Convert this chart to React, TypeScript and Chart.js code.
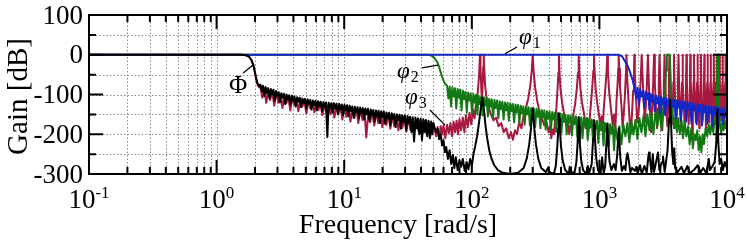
import React, { useEffect, useRef } from 'react';
import { Chart, registerables } from 'chart.js';

Chart.register(...registerables);

type P = [number, number];

// ---------- axes ----------
const X_MIN = 0.1;
const X_MAX = 10000;
const Y_MIN = -300;
const Y_MAX = 100;
const X_DECADES = [0.1, 1, 10, 100, 1000, 10000];
const X_TICK_EXP = ['-1', '0', '1', '2', '3', '4'];
const Y_MAJOR = [100, 0, -100, -200, -300];
const Y_TICK_TEXT = ['100', '0', '-100', '-200', '-300'];
const Y_MINOR = [50, -50, -150, -250];
const X_TITLE = 'Frequency [rad/s]';
const Y_TITLE = 'Gain [dB]';

// ---------- Φ (black) ----------
const PHI_ROLL: P[] = [[0.1, 0], [1.55, 0], [1.7, -1], [1.8, -5], [1.88, -14], [1.95, -28], [2.0, -45], [2.05, -62], [2.1, -73], [2.16, -79]];
const PHI_COMB: P[] = [[2.2, -75], [2.253, -92], [2.307, -78], [2.362, -104], [2.419, -81], [2.477, -96], [2.536, -84], [2.597, -110], [2.66, -86], [2.723, -100], [2.789, -88], [2.856, -116], [2.924, -91], [2.994, -104], [3.066, -94], [3.14, -120], [3.215, -97], [3.292, -108], [3.371, -98], [3.452, -124], [3.535, -100], [3.62, -112], [3.707, -102], [3.796, -126], [3.887, -103], [3.98, -115], [4.076, -105], [4.173, -130], [4.274, -107], [4.376, -118], [4.481, -108], [4.589, -132], [4.699, -110], [4.812, -121], [4.927, -111], [5.045, -135], [5.167, -112], [5.291, -124], [5.418, -114], [5.548, -138], [5.681, -115], [5.817, -127], [5.957, -116], [6.1, -140], [6.246, -117], [6.396, -129], [6.55, -118], [6.707, -142], [6.868, -119], [7.033, -132], [7.202, -120], [7.375, -207], [7.552, -121], [7.733, -134], [7.919, -122], [8.109, -145], [8.303, -122], [8.503, -136], [8.707, -123], [8.916, -150], [9.13, -124], [9.349, -138], [9.573, -125], [9.803, -152], [10.04, -126], [10.28, -140], [10.53, -127], [10.78, -155], [11.04, -128], [11.3, -142], [11.57, -130], [11.85, -158], [12.14, -131], [12.43, -145], [12.73, -132], [13.03, -160], [13.34, -133], [13.66, -147], [13.99, -134], [14.33, -163], [14.67, -135], [15.02, -150], [15.38, -136], [15.75, -166], [16.13, -138], [16.52, -152], [16.92, -139], [17.32, -168], [17.74, -140], [18.16, -155], [18.6, -141], [19.05, -172], [19.5, -142], [19.97, -157], [20.45, -143], [20.94, -174], [21.44, -145], [21.96, -160], [22.48, -146], [23.02, -178], [23.58, -147], [24.14, -162], [24.72, -149], [25.31, -182], [25.92, -150], [26.55, -165], [27.18, -151], [27.83, -186], [28.5, -152], [29.19, -168], [29.89, -153], [30.61, -190], [31.34, -154], [32.09, -172], [32.86, -156], [33.65, -195], [34.46, -157], [35.29, -218], [36.13, -158], [37.0, -185], [37.89, -160], [38.8, -200], [39.73, -161], [40.68, -215], [41.66, -162], [42.66, -195], [43.68, -164], [44.73, -205], [45.8, -166], [46.9, -210], [48.03, -168], [49.18, -200]];
const PHI_TAIL: P[] = [[50, -172], [51, -182], [52.5, -195], [54, -186], [55.5, -212], [57, -200], [58.5, -228], [60, -215], [61.5, -245], [63, -232], [65, -262], [67, -240], [69, -275], [71, -252], [73, -285], [75, -258], [77.5, -290], [80, -265], [82.5, -282], [85, -262], [88, -292], [91, -270], [94, -288], [97, -262], [100, -280], [103, -250], [106, -232], [110, -205], [114, -170], [117, -140], [119.5, -118], [121, -108], [122.5, -118], [125, -145], [128, -178], [132, -210], [137, -240], [143, -262], [150, -278], [160, -290], [175, -297], [200, -300], [230, -297], [255, -285], [270, -260], [282, -225], [291, -185], [297, -150], [300, -135], [303, -150], [309, -185], [318, -225], [332, -262], [350, -285], [380, -295], [398, -283], [405, -295], [440, -300], [455, -280], [468, -230], [476, -185], [480, -160], [482, -147], [485, -160], [490, -190], [500, -230], [515, -265], [540, -290], [575, -300], [585, -282], [595, -298], [640, -295], [660, -270], [674, -225], [683, -180], [688, -157], [693, -180], [703, -225], [720, -265], [745, -290], [790, -300], [810, -280], [830, -298], [870, -275], [893, -210], [902, -178], [907, -165], [912, -178], [922, -210], [945, -260], [975, -290], [1020, -300], [1050, -258], [1080, -298], [1110, -280], [1135, -220], [1148, -185], [1153, -173], [1158, -185], [1172, -220], [1200, -268], [1240, -290], [1300, -275], [1340, -290], [1380, -250], [1405, -205], [1416, -185], [1428, -205], [1455, -255], [1500, -292], [1560, -280], [1600, -290], [1630, -260], [1660, -248], [1690, -262], [1750, -295], [1800, -285], [1900, -292], [1950, -282], [2000, -298], [2080, -278], [2150, -300], [2250, -280], [2350, -296], [2420, -255], [2450, -246], [2480, -258], [2560, -296], [2620, -250], [2680, -295], [2800, -265], [2880, -246], [2950, -290], [3100, -270], [3150, -256], [3250, -295], [3420, -240], [3520, -160], [3575, -114], [3630, -160], [3720, -245], [3800, -275], [3860, -235], [3920, -285], [4100, -295], [4400, -282], [4600, -298], [4900, -280], [5100, -298], [5500, -290], [5900, -278], [6200, -296], [6500, -285], [6900, -298], [7200, -262], [7350, -290], [7700, -280], [8000, -270], [8250, -220], [8400, -138], [8550, -220], [8750, -275], [9000, -262], [9300, -290], [9600, -270], [10000, -285]];

// ---------- φ1 (blue) ----------
const PHI1_ROLL: P[] = [[0.1, 0], [1400, 0], [1500, -3], [1565, -13], [1650, -25], [1713, -38], [1770, -52], [1820, -63], [1850, -74], [1880, -80]];
const PHI1_COMB: P[] = [[1900, -80], [1946, -110], [1992, -83], [2040, -125], [2089, -87], [2139, -105], [2191, -91], [2243, -132], [2297, -93], [2352, -112], [2409, -96], [2466, -138], [2526, -99], [2586, -118], [2648, -101], [2712, -142], [2777, -103], [2843, -122], [2912, -105], [2981, -148], [3053, -106], [3126, -125], [3201, -108], [3278, -152], [3357, -110], [3437, -128], [3520, -111], [3604, -155], [3691, -112], [3779, -131], [3870, -114], [3963, -160], [4058, -115], [4155, -133], [4255, -116], [4357, -165], [4462, -117], [4569, -136], [4678, -119], [4791, -168], [4906, -120], [5023, -138], [5144, -121], [5267, -172], [5394, -122], [5523, -140], [5656, -124], [5791, -175], [5930, -125], [6073, -143], [6218, -126], [6368, -178], [6521, -127], [6677, -145], [6837, -128], [7001, -172], [7169, -129], [7342, -147], [7518, -130], [7698, -180], [7883, -131], [8072, -150], [8266, -132], [8464, -183], [8668, -134], [8876, -152], [9089, -134], [9307, -175], [9530, -135], [9759, -158], [10000, -137]];

// ---------- φ2 (green) ----------
const PHI2_ROLL: P[] = [[0.1, 0], [46, 0], [48, -2], [51, -8], [54, -20], [56, -35], [58, -52], [60, -65], [62, -74]];
const PHI2_COMB: P[] = [[64, -78], [65.54, -110], [67.11, -80], [68.72, -130], [70.37, -82], [72.06, -105], [73.79, -84], [75.56, -135], [77.37, -86], [79.23, -108], [81.13, -88], [83.08, -140], [85.07, -90], [87.11, -112], [89.21, -93], [91.35, -145], [93.54, -95], [95.79, -115], [98.08, -97], [100.4, -148], [102.9, -99], [105.3, -120], [107.9, -101], [110.5, -150], [113.1, -103], [115.8, -124], [118.6, -105], [121.5, -152], [124.4, -107], [127.4, -128], [130.4, -109], [133.6, -155], [136.8, -111], [140, -131], [143.4, -112], [146.9, -158], [150.4, -114], [154, -134], [157.7, -115], [161.5, -160], [165.3, -117], [169.3, -137], [173.4, -118], [177.5, -163], [181.8, -120], [186.2, -140], [190.6, -121], [195.2, -166], [199.9, -122], [204.7, -142], [209.6, -124], [214.6, -170], [219.8, -125], [225.1, -145], [230.5, -126], [236, -172], [241.7, -128], [247.5, -148], [253.4, -130], [259.5, -176], [265.7, -131], [272.1, -150], [278.7, -132], [285.3, -178], [292.2, -134], [299.2, -153], [306.4, -135], [313.7, -182], [321.3, -136], [329, -156], [336.9, -138], [345, -185], [353.2, -139], [361.7, -158], [370.4, -140], [379.3, -188], [388.4, -142], [397.7, -161], [407.3, -143], [417, -190], [427.1, -144], [437.3, -163], [447.8, -146], [458.6, -194], [469.6, -147], [480.9, -166], [492.4, -148], [504.2, -196], [516.3, -150], [528.7, -169], [541.4, -151], [554.4, -200], [567.7, -152], [581.3, -171], [595.3, -153], [609.6, -203], [624.2, -154], [639.2, -174], [654.6, -155], [670.3, -206], [686.4, -157], [702.8, -177], [719.7, -158], [737, -210], [754.7, -159], [772.8, -180], [791.3, -160], [810.3, -214], [829.8, -162], [849.7, -183], [870.1, -163], [891, -218], [912.4, -165], [934.3, -186], [956.7, -166], [979.7, -222], [1003, -168], [1027, -190], [1052, -169], [1077, -228], [1103, -171], [1130, -193], [1157, -173], [1185, -232], [1213, -175], [1242, -198], [1272, -177], [1303, -240], [1334, -180]];
const PHI2_RISE: P[] = [[1385, -215], [1434, -180], [1487, -225], [1541, -176], [1599, -205], [1657, -172], [1719, -220], [1781, -168], [1848, -200], [1915, -164], [1986, -212], [2058, -159], [2135, -195], [2213, -155], [2295, -205], [2379, -150], [2467, -190], [2557, -146], [2652, -200], [2749, -141], [2851, -180], [2955, -136], [3065, -190], [3177, -130], [3260, -110], [3330, -40], [3380, 0], [3560, 0], [3600, -40], [3670, -120]];
const PHI2_HIGH: P[] = [[3750, -150], [3850, -185], [3950, -155], [4050, -195], [4150, -160], [4270, -200], [4400, -165], [4520, -210], [4650, -170], [4800, -205], [4950, -180], [5100, -225], [5250, -185], [5400, -235], [5550, -200], [5700, -215], [5850, -190], [6000, -240], [6150, -205], [6300, -245], [6450, -200], [6600, -225], [6800, -185], [7000, -205], [7200, -175], [7400, -200], [7600, -170], [7800, -195], [8000, -165], [8250, -150], [8330, -60], [8370, 0], [8550, 0], [8600, -60], [8680, -150], [8850, -180], [9000, -200], [9200, -170], [9400, -190], [9600, -165], [9800, -185], [10000, -172]];

// ---------- φ3 (red) ----------
const PHI3_ROLL: P[] = [[0.1, 0], [1.55, 0], [1.7, -1], [1.8, -5], [1.88, -14], [1.95, -29], [2.0, -46], [2.05, -64], [2.1, -77], [2.16, -82]];
const PHI3_COMB: P[] = [[2.2, -79], [2.28, -108], [2.365, -84], [2.45, -121], [2.54, -88], [2.63, -114], [2.73, -92], [2.83, -128], [2.94, -96], [3.05, -120], [3.16, -100], [3.28, -134], [3.4, -103], [3.52, -122], [3.65, -106], [3.78, -140], [3.92, -108], [4.07, -127], [4.22, -111], [4.37, -142], [4.53, -113], [4.7, -131], [4.87, -115], [5.05, -148], [5.24, -117], [5.43, -135], [5.63, -119], [5.84, -145], [6.05, -121], [6.28, -139], [6.51, -122], [6.75, -152], [7, -124], [7.26, -146], [7.52, -125], [7.8, -150], [8.08, -126], [8.38, -158], [8.69, -128], [9.01, -150], [9.34, -129], [9.68, -163], [10, -130], [10.4, -156], [10.8, -132], [11.2, -168], [11.6, -134], [12, -160], [12.5, -136], [12.9, -172], [13.4, -137], [13.9, -164], [14.4, -139], [14.9, -208], [15.5, -141], [16, -170], [16.6, -143], [17.2, -178], [17.9, -145], [18.5, -172], [19.2, -146], [19.9, -182], [20.6, -148], [21.4, -176], [22.2, -150], [23, -186], [23.9, -152], [24.7, -180], [25.6, -154], [26.6, -190], [27.6, -155], [28.6, -184], [29.6, -157], [30.7, -194], [31.8, -159], [33, -188], [34.2, -161], [35.5, -198], [36.8, -163], [38.2, -192], [39.6, -165], [41, -200], [42.5, -167], [44.1, -196], [45.7, -170], [47.4, -204], [49.1, -174]];
const PHI3_MID: P[] = [[51, -185], [52.5, -205], [54, -182], [55.5, -212], [57, -180], [58.5, -200], [60, -178], [62, -210], [64, -176], [66, -198], [68, -172], [70, -205], [72, -169], [74, -195], [76, -166], [78, -200], [80, -162], [82.5, -190], [85, -158], [87.5, -195], [90, -152], [93, -182], [96, -146], [99, -175], [102, -138], [105, -160], [108, -122], [111, -100], [113.5, -60], [115, -25], [116, 0], [117, -30], [118.5, -80], [120, -115], [121.5, -80], [123, -30], [124, 0], [125, -30], [127, -75], [130, -105], [135, -130], [141, -150], [148, -165], [155, -158], [162, -180], [170, -172], [178, -195], [186, -185], [195, -210], [203, -195], [210, -214], [218, -190], [226, -200], [235, -170], [245, -185], [255, -150], [265, -135], [277, -110], [288, -75], [295, -40], [300, 0], [305, -40], [313, -80], [325, -115], [340, -145], [355, -160], [370, -178], [385, -170], [400, -195], [410, -180], [420, -210], [430, -188], [440, -200], [450, -165], [460, -135], [470, -85], [477, -45], [482, 0], [487, -45], [495, -85], [510, -120], [530, -150], [550, -175], [565, -165], [580, -200], [595, -178], [610, -190], [625, -150], [645, -125], [665, -85], [680, -45], [688, 0], [696, -45], [710, -85], [730, -120], [760, -150], [780, -185], [800, -160], [820, -195], [840, -160], [860, -120], [880, -80], [897, -40], [907, 0], [917, -40], [935, -85], [960, -120], [990, -150], [1020, -180], [1040, -155], [1060, -190], [1080, -140], [1110, -90], [1140, -40], [1153, 0], [1166, -40], [1190, -90], [1230, -135], [1270, -175], [1300, -150], [1330, -195], [1360, -120], [1390, -70], [1405, -35], [1416, 0], [1428, -35], [1450, -80], [1490, -130], [1520, -185], [1550, -150], [1580, -110], [1610, -55], [1630, 0], [1650, -55]];
const PHI3_HIGH: P[] = [[1690, -115], [1730, -170], [1760, -200], [1800, -150], [1840, -90], [1865, -45], [1880, 0], [1895, -45], [1930, -100], [1980, -170], [2020, -150], [2070, -110], [2115, -50], [2145, 0], [2175, -50], [2220, -110], [2270, -170], [2310, -130], [2360, -70], [2400, 0], [2440, -70], [2490, -140], [2540, -195], [2590, -130], [2640, -70], [2680, 0], [2720, -70], [2780, -140], [2830, -185], [2880, -135], [2920, -70], [2960, 0], [3000, -70], [3060, -140], [3110, -190], [3160, -135], [3200, -70], [3240, 0], [3280, -70], [3350, -140], [3410, -180], [3460, -130], [3500, -70], [3540, 0], [3580, -70], [3650, -140], [3700, -175], [3760, -130], [3800, -70], [3840, 0], [3880, -70], [3950, -135], [4010, -185], [4070, -130], [4130, -70], [4170, 0], [4210, -70], [4290, -140], [4340, -170], [4400, -130], [4440, -70], [4480, 0], [4520, -70], [4610, -145], [4660, -185], [4720, -135], [4770, -70], [4810, 0], [4850, -70], [4950, -140], [5000, -175], [5060, -135], [5120, -70], [5160, 0], [5200, -70], [5300, -140], [5340, -200], [5400, -140], [5470, -70], [5510, 0], [5550, -70], [5650, -140], [5700, -170], [5750, -140], [5830, -70], [5870, 0], [5910, -70], [6020, -140], [6060, -185], [6110, -140], [6210, -70], [6250, 0], [6290, -70], [6400, -140], [6440, -165], [6490, -140], [6600, -70], [6640, 0], [6680, -70], [6800, -140], [6840, -190], [6880, -140], [7000, -70], [7040, 0], [7080, -70], [7200, -140], [7240, -170], [7290, -140], [7410, -70], [7450, 0], [7490, -70], [7620, -140], [7660, -180], [7700, -140], [7840, -70], [7880, 0], [7920, -70], [8050, -140], [8100, -175], [8150, -140], [8280, -70], [8320, 0], [8360, -70], [8500, -140], [8540, -185], [8580, -140], [8730, -70], [8770, 0], [8810, -70], [8950, -140], [9000, -165], [9060, -140], [9200, -70], [9240, 0], [9280, -70], [9420, -140], [9480, -180], [9530, -140], [9680, -70], [9720, 0], [9760, -70], [9900, -140], [10000, -160]];

const SERIES = [
  { name: 'Φ', color: '#000000', data: [...PHI_ROLL, ...PHI_COMB, ...PHI_TAIL] },
  { name: 'φ1', color: '#1428c8', data: [...PHI1_ROLL, ...PHI1_COMB] },
  { name: 'φ2', color: '#127812', data: [...PHI2_ROLL, ...PHI2_COMB, ...PHI2_RISE, ...PHI2_HIGH] },
  { name: 'φ3', color: '#a8183f', data: [...PHI3_ROLL, ...PHI3_COMB, ...PHI3_MID, ...PHI3_HIGH] },
];

// curve labels: text anchor and leader line in data coordinates
const ANNOTATIONS = [
  { text: 'Φ', sub: '', italic: false, f: 1.25, g: -95, from: [1.616, -46], to: [1.929, -26] },
  { text: 'φ', sub: '1', italic: true, f: 234, g: 27, from: [182, 2.5], to: [226, 19.5] },
  { text: 'φ', sub: '2', italic: true, f: 25.9, g: -58.5, from: [40.7, -33], to: [54.3, -26] },
  { text: 'φ', sub: '3', italic: true, f: 30, g: -124, from: [47, -139], to: [61.7, -177] },
];

const FONT = '"Liberation Serif", "Times New Roman", serif';

const decor = {
  id: 'decor',
  beforeDatasetsDraw(chart: any) {
    const { ctx, chartArea: a, scales } = chart;
    const xs = scales.x;
    const ys = scales.y;
    ctx.save();
    ctx.strokeStyle = '#8a8a8a';
    ctx.lineWidth = 1;
    ctx.setLineDash([1.5, 2]);
    for (let d = 0; d < X_DECADES.length - 1; d++) {
      for (let m = 1; m <= 9; m++) {
        const v = X_DECADES[d] * m;
        if (v <= X_MIN) continue;
        const px = Math.round(xs.getPixelForValue(v)) + 0.5;
        ctx.beginPath();
        ctx.moveTo(px, a.top);
        ctx.lineTo(px, a.bottom);
        ctx.stroke();
      }
    }
    for (const v of [...Y_MAJOR, ...Y_MINOR]) {
      if (v <= Y_MIN || v >= Y_MAX) continue;
      const py = Math.round(ys.getPixelForValue(v)) + 0.5;
      ctx.beginPath();
      ctx.moveTo(a.left, py);
      ctx.lineTo(a.right, py);
      ctx.stroke();
    }
    ctx.restore();
  },
  afterDatasetsDraw(chart: any) {
    const { ctx, chartArea: a, scales } = chart;
    const xs = scales.x;
    const ys = scales.y;
    ctx.save();
    ctx.setLineDash([]);
    ctx.strokeStyle = '#000';
    ctx.fillStyle = '#000';
    // ticks
    ctx.lineWidth = 2;
    const xTick = (v: number, len: number) => {
      const px = xs.getPixelForValue(v);
      ctx.beginPath();
      ctx.moveTo(px, a.top);
      ctx.lineTo(px, a.top + len);
      ctx.moveTo(px, a.bottom);
      ctx.lineTo(px, a.bottom - len);
      ctx.stroke();
    };
    for (let d = 0; d < X_DECADES.length; d++) {
      xTick(X_DECADES[d], 14);
      if (d < X_DECADES.length - 1) for (let m = 2; m <= 9; m++) xTick(X_DECADES[d] * m, 7);
    }
    const yTick = (v: number, len: number) => {
      const py = ys.getPixelForValue(v);
      ctx.beginPath();
      ctx.moveTo(a.left, py);
      ctx.lineTo(a.left + len, py);
      ctx.moveTo(a.right, py);
      ctx.lineTo(a.right - len, py);
      ctx.stroke();
    };
    Y_MAJOR.forEach((v) => yTick(v, 14));
    Y_MINOR.forEach((v) => yTick(v, 7));
    // frame
    ctx.strokeRect(a.left, a.top, a.right - a.left, a.bottom - a.top);

    // y tick labels
    ctx.font = `27px ${FONT}`;
    ctx.textAlign = 'right';
    ctx.textBaseline = 'alphabetic';
    Y_MAJOR.forEach((v, i) => {
      ctx.fillText(Y_TICK_TEXT[i], a.left - 6, ys.getPixelForValue(v) + 8.5);
    });
    // x tick labels 10^n
    ctx.textAlign = 'left';
    X_DECADES.forEach((v, i) => {
      const px = xs.getPixelForValue(v);
      ctx.font = `27px ${FONT}`;
      const wb = ctx.measureText('10').width;
      ctx.font = `17px ${FONT}`;
      const ws = ctx.measureText(X_TICK_EXP[i]).width;
      const x0 = px - (wb + ws) / 2;
      ctx.font = `27px ${FONT}`;
      ctx.fillText('10', x0, a.bottom + 33.5);
      ctx.font = `17px ${FONT}`;
      ctx.fillText(X_TICK_EXP[i], x0 + wb, a.bottom + 24);
    });
    // axis titles
    ctx.font = `28px ${FONT}`;
    ctx.textAlign = 'center';
    ctx.fillText(X_TITLE, 398, a.bottom + 59);
    ctx.save();
    ctx.translate(27, (a.top + a.bottom) / 2 + 2);
    ctx.rotate(-Math.PI / 2);
    ctx.font = `29px ${FONT}`;
    ctx.fillText(Y_TITLE, 0, 0);
    ctx.restore();

    // curve labels
    ctx.lineWidth = 1.3;
    ANNOTATIONS.forEach((an) => {
      ctx.beginPath();
      ctx.moveTo(xs.getPixelForValue(an.from[0]), ys.getPixelForValue(an.from[1]));
      ctx.lineTo(xs.getPixelForValue(an.to[0]), ys.getPixelForValue(an.to[1]));
      ctx.stroke();
      const px = xs.getPixelForValue(an.f);
      const py = ys.getPixelForValue(an.g);
      ctx.textAlign = 'left';
      ctx.font = an.italic ? `italic 23px ${FONT}` : `25px ${FONT}`;
      ctx.fillText(an.text, px, py);
      if (an.sub) {
        const w = ctx.measureText(an.text).width;
        ctx.font = `16px ${FONT}`;
        ctx.fillText(an.sub, px + w + 1, py + 4);
      }
    });
    ctx.restore();
  },
};

export default function App() {
  const ref = useRef<HTMLCanvasElement | null>(null);
  useEffect(() => {
    document.body.style.margin = '0';
    const canvas = ref.current;
    if (!canvas) return;
    const chart = new Chart(canvas, {
      type: 'line',
      data: {
        datasets: SERIES.map((s) => ({
          label: s.name,
          data: s.data.map(([x, y]) => ({ x, y })),
          borderColor: s.color,
          backgroundColor: s.color,
          borderWidth: 2,
          borderJoinStyle: 'round',
          pointRadius: 0,
          fill: false,
          tension: 0,
        })),
      },
      options: {
        responsive: false,
        animation: false,
        devicePixelRatio: 1,
        events: [],
        layout: { padding: { left: 89, right: 20, top: 15, bottom: 67 } },
        scales: {
          x: { type: 'logarithmic', min: X_MIN, max: X_MAX, display: false },
          y: { type: 'linear', min: Y_MIN, max: Y_MAX, display: false },
        },
        plugins: { legend: { display: false }, tooltip: { enabled: false } },
      },
      plugins: [decor],
    } as any);
    return () => chart.destroy();
  }, []);
  return <canvas ref={ref} width={747} height={241} style={{ display: 'block', width: 747, height: 241 }} />;
}
